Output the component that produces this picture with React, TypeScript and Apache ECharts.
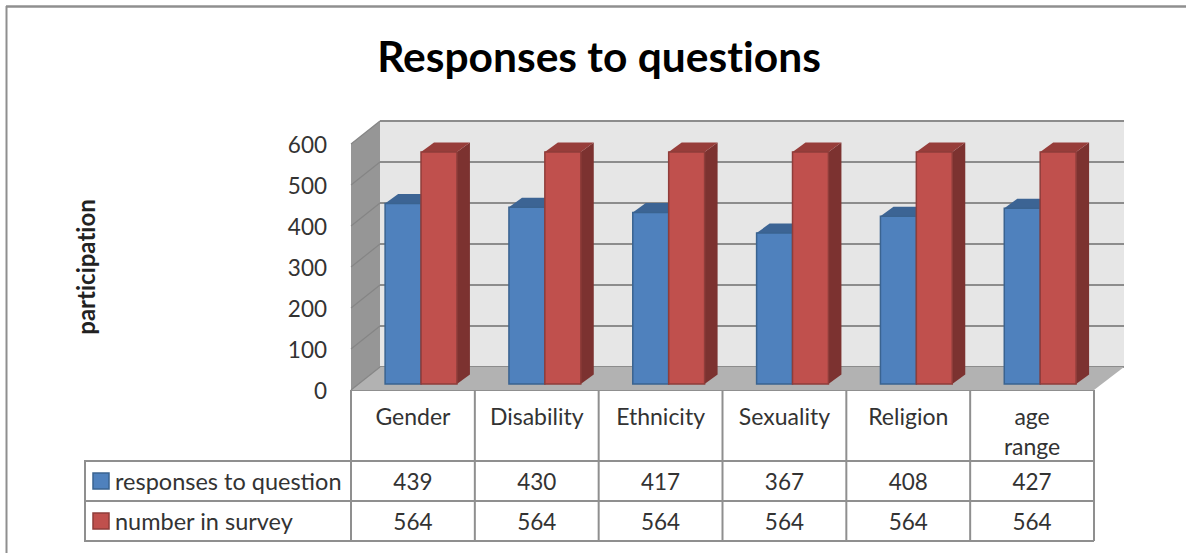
import React, { useEffect, useRef } from "react";
import * as echarts from "echarts";

const categories = ["Gender", "Disability", "Ethnicity", "Sexuality", "Religion", "age\nrange"];
const responses = [439, 430, 417, 367, 408, 427];
const survey = [564, 564, 564, 564, 564, 564];
const ticks = [0, 100, 200, 300, 400, 500, 600];
const FONT = "Lato";
const TEXT = "#333333";
const LINE = "#8f8f8f";

const DX = 13;
const DY = 9.5;

const barRender = (offsetSign: number, face: string, edge: string, top: string, side: string) =>
  (params: any, api: any) => {
    const idx = api.value(0);
    const v = api.value(1);
    const band = api.size([1, 0])[0];
    const w = band * 0.29;
    const cx = api.coord([idx, v])[0];
    const yTop = api.coord([idx, v])[1];
    const yBase = api.coord([idx, 0])[1];
    const x0 = offsetSign < 0 ? cx - w : cx;
    const x1 = x0 + w;
    return {
      type: "group",
      children: [
        { type: "polygon", shape: { points: [[x1, yTop], [x1 + DX, yTop - DY], [x1 + DX, yBase - DY], [x1, yBase]] }, style: { fill: side } },
        { type: "polygon", shape: { points: [[x0, yTop], [x0 + DX, yTop - DY], [x1 + DX, yTop - DY], [x1, yTop]] }, style: { fill: top } },
        { type: "rect", shape: { x: x0, y: yTop, width: w, height: yBase - yTop }, style: { fill: face, stroke: edge, lineWidth: 1.5 } },
      ],
    };
  };

const wallLines = (params: any, api: any) => {
  const y = api.coord([0, api.value(1)])[1];
  const x = params.coordSys.x;
  return {
    type: "line",
    shape: { x1: x, y1: y, x2: x + 29, y2: y - 23 },
    style: { stroke: "#858585", lineWidth: 1.2 },
  };
};

const tableColumns = (params: any, api: any) => {
  const i = api.value(0);
  const band = api.size([1, 0])[0];
  const cx = api.coord([i, 0])[0];
  const y0 = api.coord([i, 0])[1];
  const x0 = cx - band / 2;
  const cellText = (text: number, y: number) => ({
    type: "text",
    style: { text: String(text), x: cx, y, fill: TEXT, font: `22.5px ${FONT}`, textAlign: "center", textVerticalAlign: "middle" },
  });
  const lines: any[] = [
    { type: "line", shape: { x1: x0, y1: y0, x2: x0, y2: 541 }, style: { stroke: LINE, lineWidth: 2 } },
  ];
  if (i === categories.length - 1) {
    lines.push({ type: "line", shape: { x1: x0 + band, y1: y0, x2: x0 + band, y2: 541 }, style: { stroke: LINE, lineWidth: 2 } });
  }
  return { type: "group", children: [...lines, cellText(api.value(1), 481), cellText(api.value(2), 521)] };
};

const hLine = (x1: number, x2: number, y: number, width = 2) => ({
  type: "line",
  shape: { x1, y1: y, x2, y2: y },
  style: { stroke: LINE, lineWidth: width },
});
const vLine = (x: number, y1: number, y2: number) => ({
  type: "line",
  shape: { x1: x, y1, x2: x, y2 },
  style: { stroke: LINE, lineWidth: 2 },
});

const rowLabel = (name: string, y: number, fill: string, edge: string) => [
  { type: "rect", shape: { x: 93, y: y - 8, width: 16, height: 16 }, style: { fill, stroke: edge, lineWidth: 1.5 } },
  { type: "text", x: 115, y, style: { text: name, fill: TEXT, font: `23.5px ${FONT}`, textAlign: "left", textVerticalAlign: "middle" } },
];

export default function App() {
  const ref = useRef<HTMLDivElement>(null);
  useEffect(() => {
    document.body.style.margin = "0";
    const chart = echarts.init(ref.current!, undefined, { renderer: "svg" });
    chart.setOption({
      animation: false,
      backgroundColor: "#ffffff",
      title: {
        text: "Responses to questions",
        left: 594,
        top: 29,
        textAlign: "center",
        textStyle: { fontFamily: FONT, fontWeight: "bold", fontSize: 42.5, color: "#000000" },
      },
      grid: [
        { left: 351, top: 144, width: 743, height: 246 },
        { left: 380, top: 121, width: 744, height: 246, show: true, backgroundColor: "#e6e6e6", borderWidth: 0 },
        { left: 359.1, top: 137.2, width: 743, height: 246.8 },
      ],
      xAxis: [
        {
          type: "category",
          gridIndex: 0,
          data: categories,
          axisLine: { show: false },
          axisTick: { show: false },
          axisLabel: { interval: 0, margin: 11, color: TEXT, fontFamily: FONT, fontSize: 23, lineHeight: 30 },
        },
        { type: "category", gridIndex: 1, data: categories, show: false },
        { type: "category", gridIndex: 2, data: categories, show: false },
      ],
      yAxis: [
        {
          type: "value",
          gridIndex: 0,
          min: 0,
          max: 600,
          interval: 100,
          name: "participation",
          nameLocation: "middle",
          nameRotate: 90,
          nameGap: 254,
          nameTextStyle: { fontFamily: FONT, fontWeight: "bold", fontSize: 24, color: "#222222" },
          axisLine: { show: false },
          axisTick: { show: false },
          splitLine: { show: false },
          axisLabel: { margin: 24, color: TEXT, fontFamily: FONT, fontSize: 22.5 },
        },
        {
          type: "value",
          gridIndex: 1,
          min: 0,
          max: 600,
          interval: 100,
          axisLine: { show: false },
          axisTick: { show: false },
          axisLabel: { show: false },
          splitLine: { show: true, lineStyle: { color: "#8c8c8c", width: 2 } },
        },
        { type: "value", gridIndex: 2, min: 0, max: 600, show: false, splitLine: { show: false } },
      ],
      series: [
        {
          type: "custom",
          name: "wall lines",
          xAxisIndex: 0,
          yAxisIndex: 0,
          z: 3,
          silent: true,
          data: ticks.map((t) => [0, t]),
          renderItem: wallLines,
        },
        {
          type: "custom",
          name: "data table",
          xAxisIndex: 0,
          yAxisIndex: 0,
          z: 3,
          silent: true,
          encode: { x: 0, y: 1 },
          data: categories.map((_, i) => [i, responses[i], survey[i]]),
          renderItem: tableColumns,
        },
        {
          type: "custom",
          name: "responses to question",
          xAxisIndex: 2,
          yAxisIndex: 2,
          z: 5,
          data: responses.map((v, i) => [i, v]),
          renderItem: barRender(-1, "#4f81bd", "#3a6390", "#3c6494", "#2f5078"),
        },
        {
          type: "custom",
          name: "number in survey",
          xAxisIndex: 2,
          yAxisIndex: 2,
          z: 6,
          data: survey.map((v, i) => [i, v]),
          renderItem: barRender(1, "#c0504d", "#8f3d3a", "#973d3a", "#7c3230"),
        },
      ],
      graphic: [
        hLine(6, 1186, 6.5, 2.5),
        vLine(6.5, 6, 553),
        { type: "polygon", z: 1, shape: { points: [[351, 144], [380, 121], [380, 367], [351, 390]] }, style: { fill: "#969696" } },
        { type: "polygon", z: 1, shape: { points: [[351, 390], [380, 367], [1124, 367], [1094, 390]] }, style: { fill: "#b2b2b2" } },
        hLine(351, 1094, 390),
        hLine(85, 1094, 461),
        hLine(85, 1094, 501),
        hLine(85, 1094, 541),
        vLine(85, 460, 542),
        ...rowLabel("responses to question", 481, "#4f81bd", "#3a6390"),
        ...rowLabel("number in survey", 521, "#c0504d", "#8f3d3a"),
      ],
    });
    return () => chart.dispose();
  }, []);
  return (
    <div
      ref={ref}
      style={{ position: "absolute", left: 0, top: 0, width: 1186, height: 553, fontVariantLigatures: "none" }}
    />
  );
}
